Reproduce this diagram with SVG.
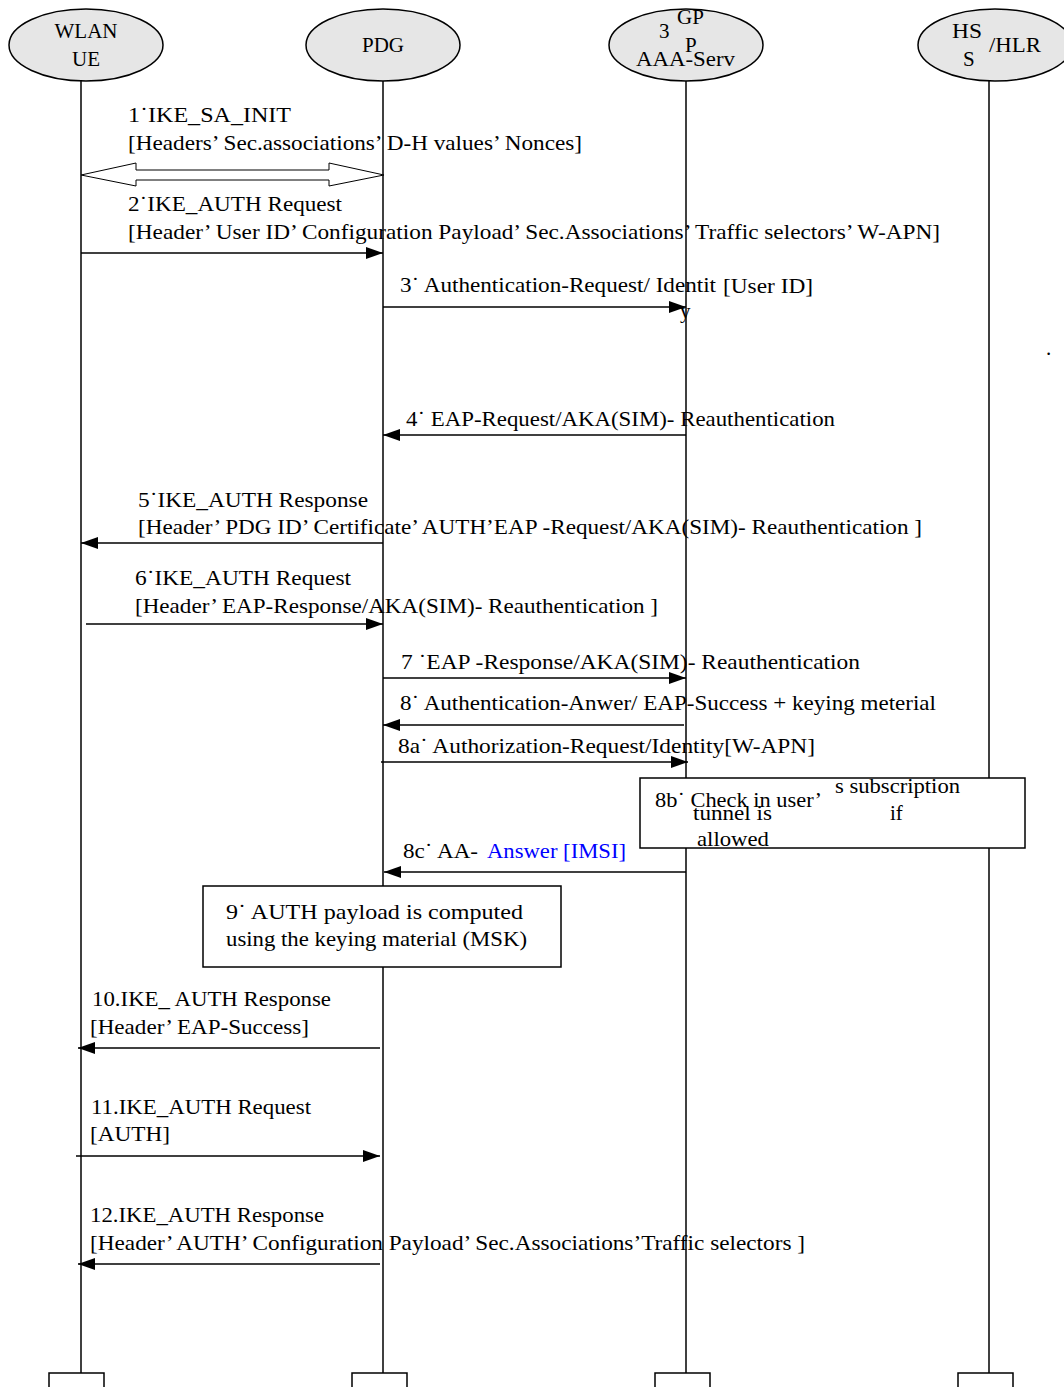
<svg xmlns="http://www.w3.org/2000/svg" width="1064" height="1387" viewBox="0 0 1064 1387">
<style>
text{font-family:"Liberation Serif","Times New Roman",serif;font-size:21px;fill:#000}
.node{fill:#e6e6e6;stroke:#000;stroke-width:1.5}
.life{stroke:#000;stroke-width:1.5;fill:none}
.msg{stroke:#000;stroke-width:1.5;fill:none}
.box{fill:#fff;stroke:#000;stroke-width:1.5}
.blue{fill:#0000ff}
</style>
<defs>
<marker id="ah" markerUnits="userSpaceOnUse" markerWidth="18" markerHeight="14" refX="17" refY="6" orient="auto">
<path d="M0,0 L17,6 L0,12 Z" fill="#000"/>
</marker>
</defs>
<rect width="1064" height="1387" fill="#fff"/>

<g id="lifelines">
<line class="life" x1="81" y1="81" x2="81" y2="1373"/>
<line class="life" x1="383" y1="81" x2="383" y2="1373"/>
<line class="life" x1="686" y1="81" x2="686" y2="1373"/>
<line class="life" x1="989" y1="81" x2="989" y2="1373"/>
<path class="life" d="M49,1387 V1373 H104 V1387"/>
<path class="life" d="M352,1387 V1373 H407 V1387"/>
<path class="life" d="M655,1387 V1373 H710 V1387"/>
<path class="life" d="M958,1387 V1373 H1013 V1387"/>
</g>

<g id="node-wlan">
<ellipse class="node" cx="86" cy="45" rx="77" ry="36"/>
<text x="86" y="38" text-anchor="middle">WLAN</text>
<text x="86" y="66" text-anchor="middle">UE</text>
</g>
<g id="node-pdg">
<ellipse class="node" cx="383" cy="45" rx="77" ry="36"/>
<text x="383" y="52" text-anchor="middle">PDG</text>
</g>
<g id="node-aaa">
<ellipse class="node" cx="686" cy="45" rx="77" ry="36"/>
<text x="659" y="38">3</text>
<text x="677" y="24">GP</text>
<text x="685" y="52">P</text>
<text x="636" y="66" textLength="99" lengthAdjust="spacingAndGlyphs">AAA-Serv</text>
</g>
<g id="node-hss">
<ellipse class="node" cx="995" cy="45" rx="77" ry="36"/>
<text x="952" y="38" textLength="30" lengthAdjust="spacingAndGlyphs">HS</text>
<text x="963" y="66">S</text>
<text x="989" y="52" textLength="52" lengthAdjust="spacingAndGlyphs">/HLR</text>
</g>

<g id="connectors">
<polygon points="81,175 136,163 136,170 329,170 329,163 384,175 329,186 329,180 136,180 136,186" fill="#fff" stroke="#000" stroke-width="1"/>
<line class="msg" x1="81" y1="253" x2="383" y2="253" marker-end="url(#ah)"/>
<line class="msg" x1="383" y1="307" x2="686" y2="307" marker-end="url(#ah)"/>
<line class="msg" x1="686" y1="435" x2="383" y2="435" marker-end="url(#ah)"/>
<line class="msg" x1="383" y1="543" x2="81" y2="543" marker-end="url(#ah)"/>
<line class="msg" x1="86" y1="624" x2="383" y2="624" marker-end="url(#ah)"/>
<line class="msg" x1="383" y1="678" x2="686" y2="678" marker-end="url(#ah)"/>
<line class="msg" x1="684" y1="725" x2="383" y2="725" marker-end="url(#ah)"/>
<line class="msg" x1="381" y1="762" x2="688" y2="762" marker-end="url(#ah)"/>
<line class="msg" x1="686" y1="872" x2="384" y2="872" marker-end="url(#ah)"/>
<line class="msg" x1="380" y1="1048" x2="78" y2="1048" marker-end="url(#ah)"/>
<line class="msg" x1="76" y1="1156" x2="380" y2="1156" marker-end="url(#ah)"/>
<line class="msg" x1="380" y1="1264" x2="78" y2="1264" marker-end="url(#ah)"/>
</g>

<g id="labels">
<text x="128" y="122" textLength="163" lengthAdjust="spacingAndGlyphs">1˙IKE_SA_INIT</text>
<text x="128" y="150" textLength="454" lengthAdjust="spacingAndGlyphs">[Headers’ Sec.associations’ D-H values’ Nonces]</text>
<text x="128" y="211" textLength="214" lengthAdjust="spacingAndGlyphs">2˙IKE_AUTH Request</text>
<text x="128" y="239" textLength="812" lengthAdjust="spacingAndGlyphs">[Header’ User ID’ Configuration Payload’ Sec.Associations’ Traffic selectors’ W-APN]</text>
<text x="400" y="292" textLength="316" lengthAdjust="spacingAndGlyphs">3˙ Authentication-Request/ Identit</text>
<text x="723" y="293" textLength="90" lengthAdjust="spacingAndGlyphs">[User ID]</text>
<text x="680" y="318">y</text>
<text x="1046" y="355" font-size="10">.</text>
<text x="406" y="426" textLength="429" lengthAdjust="spacingAndGlyphs">4˙ EAP-Request/AKA(SIM)- Reauthentication</text>
<text x="138" y="507" textLength="230" lengthAdjust="spacingAndGlyphs">5˙IKE_AUTH Response</text>
<text x="138" y="534" textLength="784" lengthAdjust="spacingAndGlyphs">[Header’ PDG ID’ Certificate’ AUTH’EAP -Request/AKA(SIM)- Reauthentication ]</text>
<text x="135" y="585" textLength="216" lengthAdjust="spacingAndGlyphs">6˙IKE_AUTH Request</text>
<text x="135" y="613" textLength="523" lengthAdjust="spacingAndGlyphs">[Header’ EAP-Response/AKA(SIM)- Reauthentication ]</text>
<text x="401" y="669" textLength="459" lengthAdjust="spacingAndGlyphs">7 ˙EAP  -Response/AKA(SIM)-  Reauthentication</text>
<text x="400" y="710" textLength="536" lengthAdjust="spacingAndGlyphs">8˙ Authentication-Anwer/ EAP-Success +  keying meterial</text>
<text x="398" y="753" textLength="417" lengthAdjust="spacingAndGlyphs">8a˙ Authorization-Request/Identity[W-APN]</text>
<text x="403" y="858" textLength="75" lengthAdjust="spacingAndGlyphs">8c˙ AA-</text>
<text class="blue" x="487" y="858" textLength="139" lengthAdjust="spacingAndGlyphs">Answer [IMSI]</text>
<text x="92" y="1006" textLength="239" lengthAdjust="spacingAndGlyphs">10.IKE_ AUTH Response</text>
<text x="90" y="1034" textLength="219" lengthAdjust="spacingAndGlyphs">[Header’ EAP-Success]</text>
<text x="91" y="1114" textLength="220" lengthAdjust="spacingAndGlyphs">11.IKE_AUTH Request</text>
<text x="90" y="1141" textLength="80" lengthAdjust="spacingAndGlyphs">[AUTH]</text>
<text x="90" y="1222" textLength="234" lengthAdjust="spacingAndGlyphs">12.IKE_AUTH Response</text>
<text x="90" y="1250" textLength="715" lengthAdjust="spacingAndGlyphs">[Header’ AUTH’ Configuration Payload’ Sec.Associations’Traffic selectors ]</text>
</g>

<g id="note-8b">
<rect class="box" x="640" y="778" width="385" height="70"/>
<text x="655" y="807" textLength="167" lengthAdjust="spacingAndGlyphs">8b˙ Check in user’</text>
<text x="835" y="793" textLength="125" lengthAdjust="spacingAndGlyphs">s subscription</text>
<text x="693" y="820" textLength="79" lengthAdjust="spacingAndGlyphs">tunnel is</text>
<text x="890" y="820">if</text>
<text x="697" y="846" textLength="72" lengthAdjust="spacingAndGlyphs">allowed</text>
</g>

<g id="note-9">
<rect class="box" x="203" y="886" width="358" height="81"/>
<text x="226" y="919" textLength="297" lengthAdjust="spacingAndGlyphs">9˙   AUTH payload is computed</text>
<text x="226" y="946" textLength="301" lengthAdjust="spacingAndGlyphs">using the keying material (MSK)</text>
</g>
</svg>
